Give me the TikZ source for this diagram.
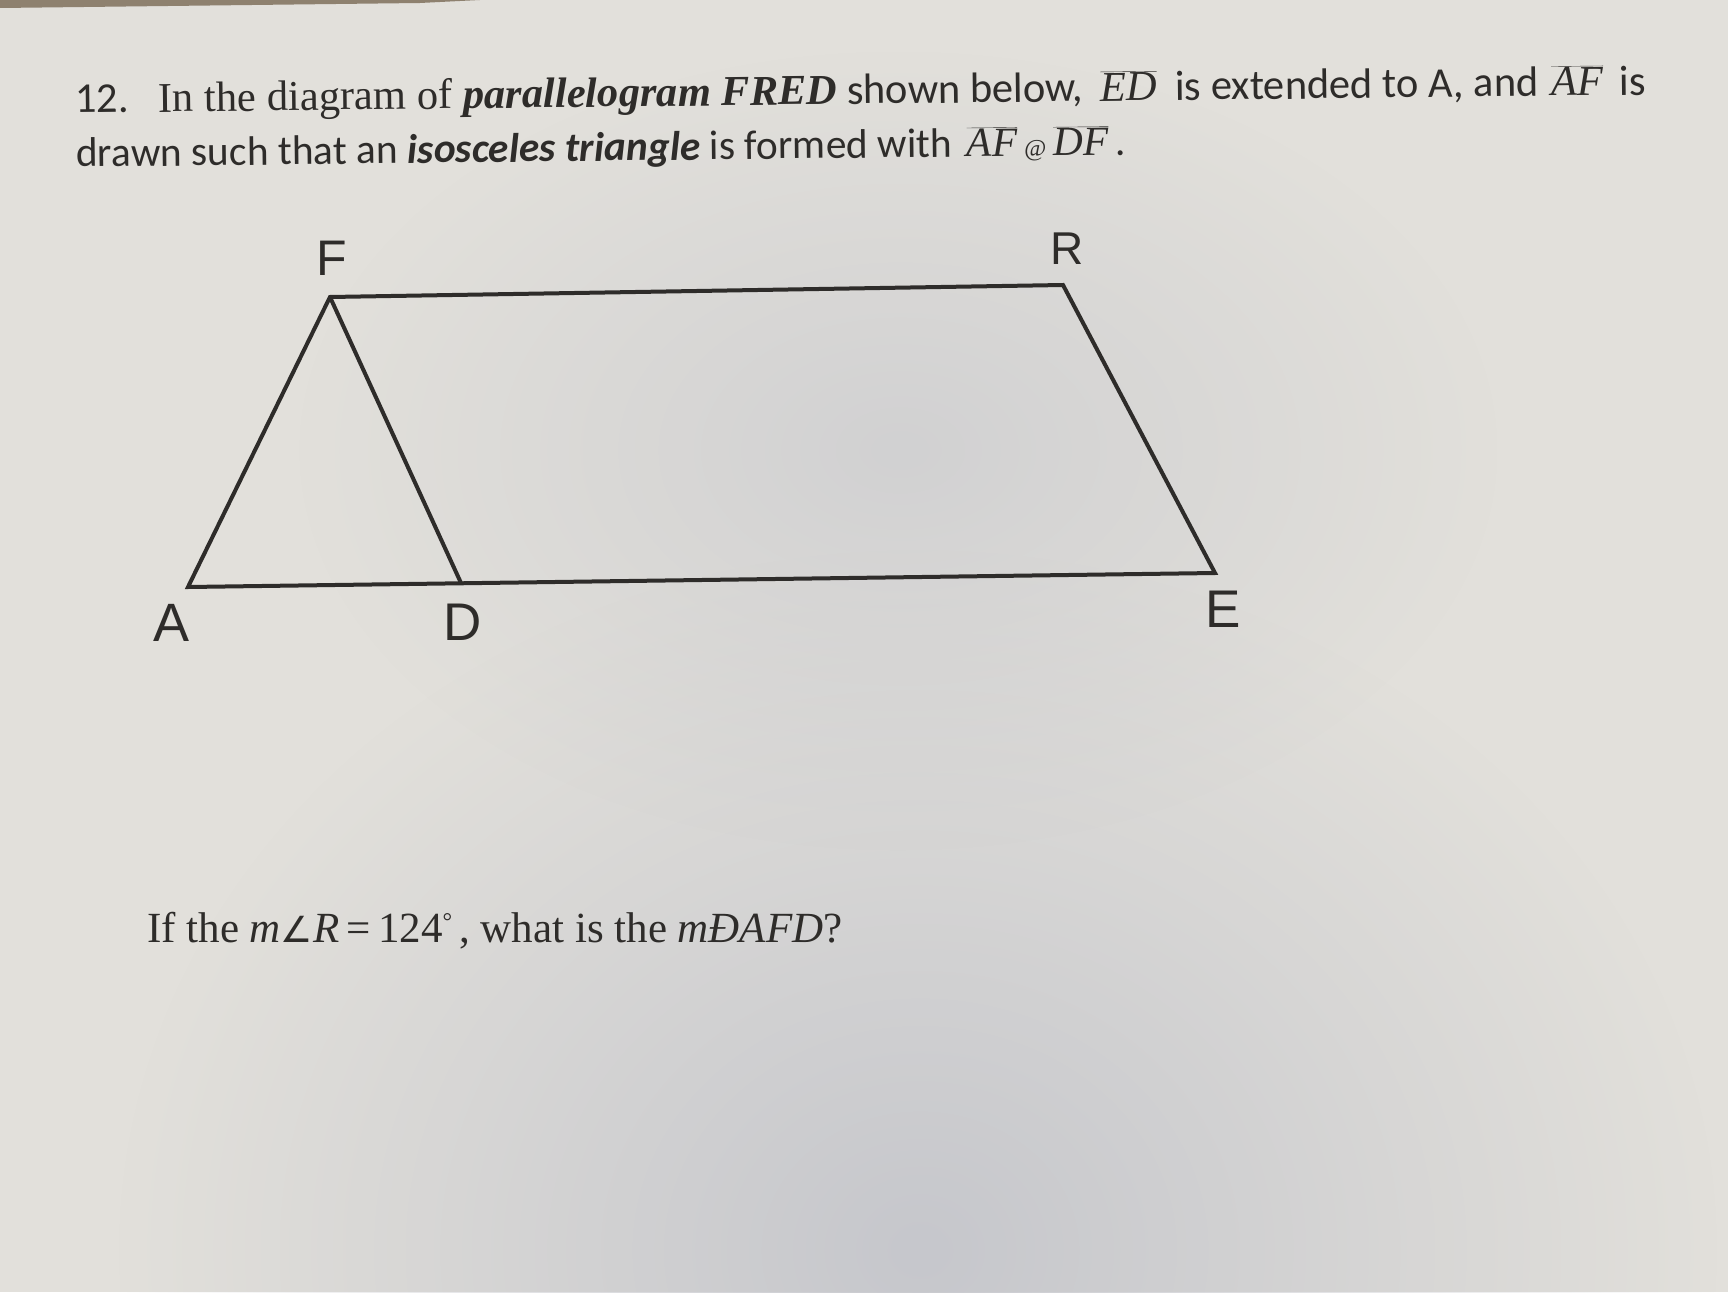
\documentclass[tikz,border=0pt]{standalone}
\usepackage{fontspec}
\usetikzlibrary{fadings}
\setmainfont{Carlito}
\newfontfamily\lserif{Liberation Serif}
\newfontfamily\lsans{Liberation Sans}
\newfontfamily\djsans{DejaVu Sans}
\newcommand{\ovl}[1]{$\overline{\hbox{\lserif\itshape #1}}$}
\definecolor{ink}{HTML}{2E2C2A}
\definecolor{paper}{HTML}{E2E0DB}
\definecolor{shadowc}{HTML}{C6C7CC}
\definecolor{edgedark}{HTML}{7A6A55}
\tikzfading[name=blob, inner color=transparent!0, outer color=transparent!100]
\tikzset{
  edge/.style={draw=ink, line width=4pt, line join=miter},
  vlabel/.style={text=ink, font=\lsans, inner sep=0pt},
  txt/.style={text=ink, inner sep=0pt, anchor=base west}
}
\begin{document}
\begin{tikzpicture}[x=1pt,y=-1pt]
\path[use as bounding box] (0,0) rectangle (1728,1292);
\fill[paper] (0,0) rectangle (1728,1292);
\begin{scope}
\clip (0,0) rectangle (1728,1292);
\fill[shadowc, path fading=blob, fit fading=true] (920,1250) ellipse [x radius=800, y radius=700];
\fill[shadowc, path fading=blob, fit fading=true, opacity=0.6] (900,450) ellipse [x radius=600, y radius=400];
\end{scope}
\fill[edgedark, opacity=0.8] (0,0) -- (480,0) -- (420,3) -- (0,8) -- cycle;
% text
\node[txt, rotate=0.66, font=\fontsize{42.5}{48}\selectfont] (l1) at (75,113)
 {12.\hspace{0.7em}{\lserif In the diagram of \textbf{\textit{parallelogram FRED}}} shown below,\hspace{0.4em}\ovl{ED}\hspace{0.2em} is extended to A, and\hspace{0.3em}\ovl{AF}\hspace{0.15em} is};
\node[txt, rotate=0.66, font=\fontsize{41.4}{48}\selectfont] (l2) at (76,167)
 {drawn such that an \textbf{\textit{isosceles triangle}} is formed with\hspace{0.35em}\ovl{AF}\,{\lserif\fontsize{24}{26}\selectfont @}\,\ovl{DF}\,.};
\node[txt, font=\lserif\fontsize{43}{48}\selectfont] (q) at (147,942)
 {If the \textit{m}{\djsans\fontsize{36}{40}\selectfont ∠}\textit{R}\,=\,124\raisebox{0.3em}{\fontsize{24}{24}\selectfont °}\,, what is the \textit{mÐAFD}?};
% geometry
\coordinate (F) at (330,297);
\coordinate (R) at (1063,285);
\coordinate (E) at (1215,573);
\coordinate (D) at (461,583);
\coordinate (A) at (188,587);
\draw[edge] (A) -- (F) -- (R) -- (E) -- cycle;
\draw[edge] (F) -- (D);
\node[vlabel, font=\lsans\fontsize{50}{50}\selectfont] (lF) at (332,258) {F};
\node[vlabel, font=\lsans\fontsize{46}{46}\selectfont] (lR) at (1067,249) {R};
\node[vlabel, font=\lsans\fontsize{54}{54}\selectfont] (lA) at (172,623) {A};
\node[vlabel, font=\lsans\fontsize{53}{53}\selectfont] (lD) at (463,622) {D};
\node[vlabel, font=\lsans\fontsize{53}{53}\selectfont] (lE) at (1223,609) {E};
\end{tikzpicture}
\end{document}
